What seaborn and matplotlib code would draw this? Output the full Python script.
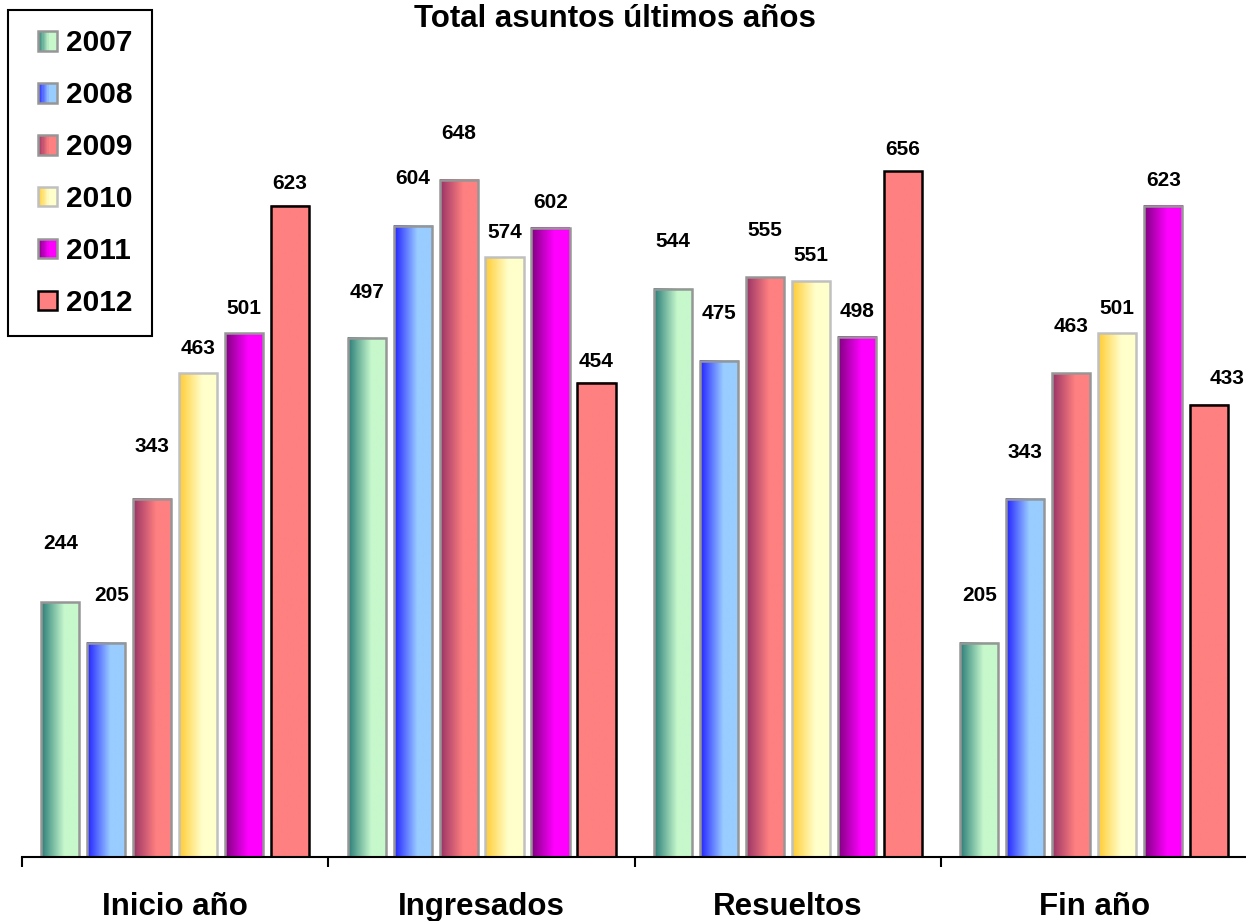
"""Total asuntos ultimos anos - grouped bars with gradient fills."""

import matplotlib

matplotlib.use("Agg")

import matplotlib.pyplot as plt
import numpy as np
import pandas as pd
import seaborn as sns
from matplotlib.colors import to_rgb
from matplotlib.legend_handler import HandlerBase
from matplotlib.patches import Rectangle

CATEGORIES = ["Inicio año", "Ingresados", "Resueltos", "Fin año"]
YEARS = ["2007", "2008", "2009", "2010", "2011", "2012"]

VALUES_2007 = [244, 497, 544, 205]
VALUES_2008 = [205, 604, 475, 343]
VALUES_2009 = [343, 648, 555, 463]
VALUES_2010 = [463, 574, 551, 501]
VALUES_2011 = [501, 602, 498, 623]
VALUES_2012 = [623, 454, 656, 433]
SERIES = [VALUES_2007, VALUES_2008, VALUES_2009, VALUES_2010, VALUES_2011, VALUES_2012]

# left (dark) -> right (light) colours of each bar's gradient
GRADIENTS = {
    "2007": ("#2a7d78", "#c6f8cc"),
    "2008": ("#2222ff", "#99ccff"),
    "2009": ("#993366", "#ff8080"),
    "2010": ("#ffcc33", "#ffffcc"),
    "2011": ("#800080", "#ff00ff"),
    "2012": ("#ff8080", "#ff8080"),
}
EDGES = {
    "2007": "#969696",
    "2008": "#969696",
    "2009": "#969696",
    "2010": "#c0c0c0",
    "2011": "#969696",
    "2012": "#000000",
}
# how far (px) each value label sits above its bar, per year / category
LABEL_LIFT = {
    "2007": [59, 45, 47, 47],
    "2008": [47, 47, 47, 46],
    "2009": [52, 46, 47, 47],
    "2010": [25, 25, 26, 25],
    "2011": [25, 25, 25, 25],
    "2012": [22, 21, 22, 26],
}
LABEL_SHIFT = {("2012", "Fin año"): 18, ("2008", "Inicio año"): 5}

W, H = 1246, 921
PX = 72 / 100  # points per pixel


def gradient_colors(year, n=64):
    c0, c1 = (np.array(to_rgb(c)) for c in GRADIENTS[year])
    s = np.clip(np.linspace(0, 1, n) / 0.6, 0, 1)[:, None]
    return c0 * (1 - s) + c1 * s


class GradSwatch:
    def __init__(self, year):
        self.year = year


class GradientHandler(HandlerBase):
    def create_artists(self, legend, orig_handle, xdescent, ydescent, width, height, fontsize, trans):
        side = 0.66 * fontsize
        x0 = -xdescent + width - side
        y0 = -ydescent + (height - side) / 2
        cols = gradient_colors(orig_handle.year, 16)
        step = side / len(cols)
        artists = [
            Rectangle((x0 + i * step, y0), step * 1.05, side, facecolor=c, edgecolor="none", transform=trans)
            for i, c in enumerate(cols)
        ]
        artists.append(
            Rectangle((x0, y0), side, side, facecolor="none", edgecolor=EDGES[orig_handle.year],
                      linewidth=1.8, transform=trans)
        )
        return artists


rows = []
for year, vals in zip(YEARS, SERIES):
    for cat, v in zip(CATEGORIES, vals):
        rows.append({"category": cat, "year": year, "value": v})
df = pd.DataFrame(rows)

sns.set_style("white")
plt.rcParams["font.family"] = ["Liberation Sans", "DejaVu Sans"]
plt.rcParams["text.color"] = "black"
plt.rcParams["xtick.color"] = "black"
plt.rcParams["xtick.labelcolor"] = "black"

fig = plt.figure(figsize=(W / 100, H / 100), dpi=100)
ax = fig.add_axes([22 / W, 64 / H, 1225.5 / W, 836 / H])

palette = {y: GRADIENTS[y][1] for y in YEARS}
sns.barplot(
    data=df, x="category", y="value", hue="year", order=CATEGORIES, hue_order=YEARS,
    palette=palette, saturation=1, width=0.9, gap=0.17, legend=False, ax=ax,
)

for container, year in zip(ax.containers, YEARS):
    cols = gradient_colors(year)[None, :, :]
    for bar, cat, val, lift in zip(container, CATEGORIES, df[df.year == year]["value"], LABEL_LIFT[year]):
        x, w, h = bar.get_x(), bar.get_width(), bar.get_height()
        bar.set_facecolor("none")
        bar.set_edgecolor(EDGES[year])
        bar.set_linewidth(1.8)
        bar.set_zorder(2)
        ax.imshow(cols, extent=[x, x + w, 0, h], aspect="auto", zorder=1.9, interpolation="bilinear")
        ax.annotate(
            f"{val}", xy=(x + w / 2, h), xytext=(LABEL_SHIFT.get((year, cat), 0) * PX, lift * PX),
            textcoords="offset points", ha="center", va="center",
            fontsize=15, fontweight="bold", annotation_clip=False,
        )

ax.set_xlim(-0.5, 3.5)
ax.set_ylim(0, 800)
ax.set_yticks([])
ax.set_xlabel("")
ax.set_ylabel("")
for side in ["left", "top", "right"]:
    ax.spines[side].set_visible(False)
ax.spines["bottom"].set_linewidth(1.5)
ax.spines["bottom"].set_color("black")

ax.set_xticks(range(len(CATEGORIES)))
ax.set_xticklabels(CATEGORIES, fontsize=22.5, fontweight="bold")
ax.set_xticks([i - 0.5 for i in range(len(CATEGORIES) + 1)], minor=True)
ax.tick_params(axis="x", which="major", length=0, pad=25)
ax.tick_params(axis="x", which="minor", length=7, width=1.5, color="black", direction="out", bottom=True)

leg = fig.legend(
    [GradSwatch(y) for y in YEARS], YEARS, handler_map={GradSwatch: GradientHandler()},
    loc="upper left", bbox_to_anchor=(8 / W, 1 - 10 / H), bbox_transform=fig.transFigure,
    borderaxespad=0, frameon=True, fancybox=False, edgecolor="black", framealpha=1,
    prop={"weight": "bold", "size": 21.5}, handlelength=1.0, handleheight=0.7,
    handletextpad=0.28, labelspacing=0.8, borderpad=0.65,
)
leg.get_frame().set_linewidth(1.5)

fig.text(615 / W, 1 - 27 / H, "Total asuntos últimos años", ha="center", va="baseline",
         fontsize=22.5, fontweight="bold")

fig.savefig("out.png", dpi=100)
plt.close(fig)
